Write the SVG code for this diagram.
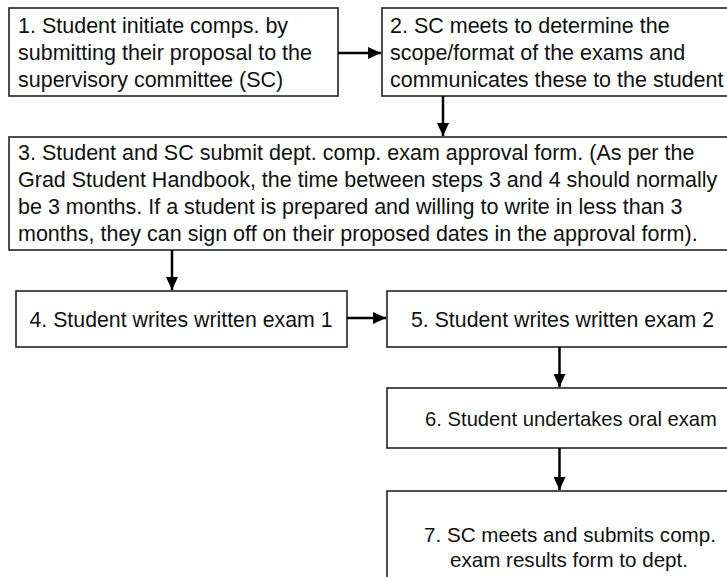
<svg xmlns="http://www.w3.org/2000/svg" width="727" height="577" viewBox="0 0 727 577">
  <style>
    .box { fill: #ffffff; stroke: #222222; stroke-width: 1.6; }
    .t { font-family: "Liberation Sans", Arial, sans-serif; font-size: 21.5px; fill: #111111; }
    .m { font-size: 21.3px; }
    .s6 { font-size: 20.2px; }
    .s7 { font-size: 20.6px; }
    .c { text-anchor: middle; }
    .conn { stroke: #000000; stroke-width: 2.5; fill: none; marker-end: url(#ah); }
  </style>
  <defs>
    <marker id="ah" markerUnits="userSpaceOnUse" markerWidth="14" markerHeight="12" refX="13" refY="6" orient="auto">
      <path d="M0,0 L13,6 L0,12 Z" fill="#000000"/>
    </marker>
  </defs>
  <rect width="727" height="577" fill="#ffffff"/>

  <g id="n1">
    <rect class="box" x="9" y="8" width="329" height="88"/>
    <text class="t" x="18" y="33">1. Student initiate comps. by</text>
    <text class="t" x="18" y="60">submitting their proposal to the</text>
    <text class="t" x="18" y="87">supervisory committee (SC)</text>
  </g>
  <g id="n2">
    <rect class="box" x="382" y="8" width="360" height="88"/>
    <text class="t" x="390" y="33">2. SC meets to determine the</text>
    <text class="t" x="390" y="60">scope/format of the exams and</text>
    <text class="t" x="390" y="87">communicates these to the student</text>
  </g>
  <g id="n3">
    <rect class="box" x="9" y="137" width="733" height="113"/>
    <text class="t" x="18" y="160">3. Student and SC submit dept. comp. exam approval form. (As per the</text>
    <text class="t" x="18" y="187">Grad Student Handbook, the time between steps 3 and 4 should normally</text>
    <text class="t" x="18" y="214">be 3 months. If a student is prepared and willing to write in less than 3</text>
    <text class="t" x="18" y="241">months, they can sign off on their proposed dates in the approval form).</text>
  </g>
  <g id="n4">
    <rect class="box" x="16" y="291" width="331" height="56"/>
    <text class="t m c" x="181" y="326.5">4. Student writes written exam 1</text>
  </g>
  <g id="n5">
    <rect class="box" x="387" y="291" width="360" height="56"/>
    <text class="t m c" x="562.5" y="326.5">5. Student writes written exam 2</text>
  </g>
  <g id="n6">
    <rect class="box" x="387" y="388" width="360" height="60"/>
    <text class="t s6 c" x="571" y="425.5">6. Student undertakes oral exam</text>
  </g>
  <g id="n7">
    <rect class="box" x="387" y="491" width="360" height="100"/>
    <text class="t s7 c" x="570" y="541.5">7. SC meets and submits comp.</text>
    <text class="t s7 c" x="569" y="567">exam results form to dept.</text>
  </g>

  <g id="connectors">
    <line class="conn" x1="338" y1="53" x2="381" y2="53"/>
    <line class="conn" x1="443" y1="96" x2="443" y2="136"/>
    <line class="conn" x1="172" y1="250" x2="172" y2="290"/>
    <line class="conn" x1="347" y1="318" x2="386" y2="318"/>
    <line class="conn" x1="559.5" y1="347" x2="559.5" y2="387"/>
    <line class="conn" x1="559.5" y1="448" x2="559.5" y2="490"/>
  </g>
</svg>
